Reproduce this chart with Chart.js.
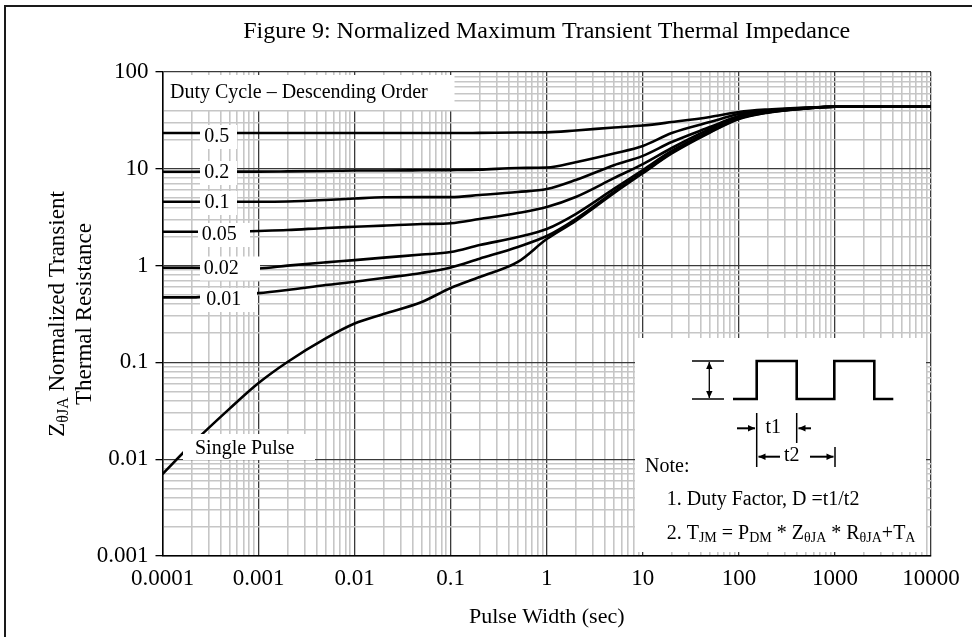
<!DOCTYPE html>
<html><head><meta charset="utf-8">
<script src="https://cdn.jsdelivr.net/npm/chart.js@4.4.1/dist/chart.umd.min.js"></script>
<style>html,body{margin:0;padding:0;background:#fff}#wrap{width:972px;height:637px;position:relative}</style>
</head><body><div id="wrap"><canvas id="c" width="972" height="637"></canvas></div>
<script>
// ---- data ----
const pulseWidth = [0.0001,0.0002,0.0005,0.001,0.002,0.005,0.01,0.02,0.05,0.1,0.2,0.5,1,2,5,10,20,50,100,200,500,1000,10000];
const duty05  = [23.4,23.4,23.4,23.4,23.4,23.4,23.4,23.4,23.4,23.4,23.5,23.7,23.8,24.9,26.7,28.0,30.4,34.3,38.6,41.0,43.0,43.8,43.8];
const duty02  = [9.33,9.33,9.35,9.35,9.4,9.5,9.6,9.6,9.65,9.7,9.8,10.2,10.3,11.7,14.4,17.2,23.4,30.4,36.8,40.0,42.5,43.8,43.8];
const duty01  = [4.57,4.57,4.57,4.57,4.6,4.76,4.93,5.08,5.1,5.1,5.36,5.76,6.18,7.66,10.9,13.6,18.9,27.0,35.1,39.6,42.5,43.8,43.8];
const duty005 = [2.24,2.24,2.24,2.28,2.33,2.45,2.52,2.59,2.69,2.74,3.03,3.49,4.03,5.11,8.0,11.2,16.4,25.8,34.3,39.1,42.5,43.8,43.8];
const duty002 = [0.95,0.95,0.94,0.935,1.0,1.08,1.14,1.21,1.30,1.38,1.63,1.97,2.39,3.41,6.2,9.7,15.3,24.5,33.5,38.6,42.0,43.8,43.8];
const duty001 = [0.47,0.47,0.5,0.52,0.56,0.63,0.68,0.745,0.84,0.955,1.18,1.56,2.02,3.03,5.8,9.16,14.7,24.0,33.1,38.3,42.0,43.8,43.8];
const singlePulse = [0.00703,0.0142,0.0333,0.0612,0.101,0.177,0.252,0.316,0.421,0.587,0.762,1.09,1.88,2.9,5.6,9.0,14.4,23.7,32.7,38.0,42.0,43.8,43.8];
const seriesLabels = ['0.5','0.2','0.1','0.05','0.02','0.01','Single Pulse'];

const xMajor = [0.0001,0.001,0.01,0.1,1,10,100,1000,10000];
const xTickLabels = ['0.0001','0.001','0.01','0.1','1','10','100','1000','10000'];
const yMajor = [0.001,0.01,0.1,1,10,100];
const yTickLabels = ['0.001','0.01','0.1','1','10','100'];

const titleText = 'Figure 9: Normalized Maximum Transient Thermal Impedance';
const xTitle = 'Pulse Width (sec)';
const legendNote = 'Duty Cycle \u2013 Descending Order';

// ---- helpers ----
const SERIF = '"Liberation Serif", "Times New Roman", serif';
function isMajor(v){ const l=Math.log10(v); return Math.abs(l-Math.round(l))<1e-6; }
function majorIndex(v, majors){ for(let i=0;i<majors.length;i++){ if(Math.abs(Math.log10(v)-Math.log10(majors[i]))<1e-6) return i; } return -1; }
function logTicks(majors){ const t=[]; for(let i=0;i<majors.length;i++){ t.push({value:majors[i]}); if(i<majors.length-1){ for(let m=2;m<=9;m++) t.push({value:majors[i]*m}); } } return t; }

const allSeries = [duty05,duty02,duty01,duty005,duty002,duty001,singlePulse];
const datasets = allSeries.map((arr,k)=>({
  label: seriesLabels[k],
  data: pulseWidth.map((x,i)=>({x:x,y:arr[i]})),
  borderColor:'#000', borderWidth:2.6, pointRadius:0, fill:false,
  cubicInterpolationMode:'monotone'
}));

function rich(ctx, segs, x, y, size, subSize, align){
  let w=0;
  for(const [t,s] of segs){ ctx.font=(s?subSize:size)+'px '+SERIF; w+=ctx.measureText(t).width; }
  let cx = align==='center' ? x-w/2 : x;
  for(const [t,s] of segs){ ctx.font=(s?subSize:size)+'px '+SERIF; ctx.fillText(t,cx,y+(s?size*0.17:0)); cx+=ctx.measureText(t).width; }
}
function arrow(ctx,x1,y1,x2,y2,head){
  ctx.beginPath(); ctx.moveTo(x1,y1); ctx.lineTo(x2,y2); ctx.stroke();
  const a=Math.atan2(y2-y1,x2-x1), h=head||7, w=3.2;
  ctx.beginPath();
  ctx.moveTo(x2,y2);
  ctx.lineTo(x2-h*Math.cos(a)+w*Math.sin(a), y2-h*Math.sin(a)-w*Math.cos(a));
  ctx.lineTo(x2-h*Math.cos(a)-w*Math.sin(a), y2-h*Math.sin(a)+w*Math.cos(a));
  ctx.closePath(); ctx.fill();
}

const decor = {
  id:'decor',
  beforeDraw(chart){
    const ctx=chart.ctx; ctx.save();
    ctx.fillStyle='#fff'; ctx.fillRect(0,0,chart.width,chart.height);
    ctx.strokeStyle='#1a1a1a'; ctx.lineWidth=2;
    ctx.beginPath(); ctx.moveTo(5,chart.height); ctx.lineTo(5,6); ctx.lineTo(chart.width,6); ctx.stroke();
    ctx.restore();
  },
  afterDatasetsDraw(chart){
    const ctx=chart.ctx, a=chart.chartArea;
    ctx.save();
    ctx.fillStyle='#000'; ctx.textBaseline='alphabetic';
    // title
    ctx.font='24px '+SERIF; ctx.textAlign='center'; ctx.textBaseline='middle';
    ctx.fillText(titleText,(a.left+a.right)/2,32);
    // legend header box
    ctx.fillStyle='#fff'; ctx.fillRect(a.left+1.5,75,453-a.left,35);
    ctx.fillStyle='#000'; ctx.font='20px '+SERIF; ctx.textAlign='left';
    ctx.fillText(legendNote,170,93);
    // series labels: [text, boxL, boxR, textCenterX, textCenterY]
    const lab=[[seriesLabels[0],200,237,216.7,137],[seriesLabels[1],200,237,216.7,173],[seriesLabels[2],200,237,217,203],
               [seriesLabels[3],198,250,219.3,235],[seriesLabels[4],200,260,221.3,268.5],[seriesLabels[5],200,257,223.7,300]];
    for(const [t,l,r,cx,cy] of lab){
      ctx.fillStyle='#fff'; ctx.fillRect(l,cy-12,r-l,24);
      ctx.fillStyle='#000'; ctx.textAlign='center'; ctx.textBaseline='middle'; ctx.font='20px '+SERIF;
      ctx.fillText(t,cx,cy);
    }
    ctx.fillStyle='#fff'; ctx.fillRect(183,434,132,26);
    ctx.fillStyle='#000'; ctx.textAlign='left'; ctx.fillText(seriesLabels[6],195,449);
    // inset box
    ctx.fillStyle='#fff'; ctx.fillRect(635,338,291,214);
    ctx.fillStyle='#000'; ctx.strokeStyle='#000';
    // amplitude bracket
    ctx.lineWidth=1.5;
    ctx.beginPath(); ctx.moveTo(692,361); ctx.lineTo(724,361); ctx.moveTo(692,399); ctx.lineTo(724,399); ctx.stroke();
    ctx.lineWidth=1.3;
    arrow(ctx,709.3,380,709.3,362,7); arrow(ctx,709.3,380,709.3,398,7);
    // waveform
    ctx.lineWidth=2.6; ctx.lineJoin='miter';
    ctx.beginPath(); ctx.moveTo(733,399); ctx.lineTo(756.7,399); ctx.lineTo(756.7,361); ctx.lineTo(796.7,361); ctx.lineTo(796.7,399);
    ctx.lineTo(834.3,399); ctx.lineTo(834.3,361); ctx.lineTo(874.3,361); ctx.lineTo(874.3,399); ctx.lineTo(893.3,399); ctx.stroke();
    // t1/t2 markers
    ctx.lineWidth=1.5;
    ctx.beginPath(); ctx.moveTo(756.7,413); ctx.lineTo(756.7,467); ctx.moveTo(796.7,413); ctx.lineTo(796.7,443); ctx.moveTo(835,447); ctx.lineTo(835,467); ctx.stroke();
    ctx.lineWidth=2;
    arrow(ctx,737,428.3,755,428.3,7); arrow(ctx,811,428.3,798.5,428.3,7);
    arrow(ctx,780,456.7,758.5,456.7,7); arrow(ctx,810,456.7,833.5,456.7,7);
    ctx.font='20px '+SERIF; ctx.textAlign='center'; ctx.textBaseline='middle';
    ctx.fillText('t1',773.3,428); ctx.fillText('t2',791.7,456);
    ctx.textAlign='left';
    ctx.fillText('Note:',645,466.7);
    ctx.fillText('1. Duty Factor, D =t1/t2',666.7,500);
    ctx.textBaseline='alphabetic';
    rich(ctx,[['2. T',0],['JM',1],[' = P',0],['DM',1],[' * Z',0],['\u03B8JA',1],[' * R',0],['\u03B8JA',1],['+T',0],['A',1]],666.7,538.5,20,14,'left');
    // y-axis title
    ctx.save(); ctx.translate(56,314); ctx.rotate(-Math.PI/2);
    rich(ctx,[['Z',0],['\u03B8JA',1],[' Normalized Transient',0]],0,7.8,23,16,'center');
    ctx.restore();
    ctx.save(); ctx.translate(83.5,314); ctx.rotate(-Math.PI/2);
    rich(ctx,[['Thermal Resistance',0]],0,7.8,23,16,'center');
    ctx.restore();
    ctx.restore();
  }
};

const gridColor = c => (c.tick && isMajor(c.tick.value)) ? '#3a3a3a' : '#c6c6c6';
const gridWidth = c => (c.tick && isMajor(c.tick.value)) ? 1.3 : 1.6;

new Chart(document.getElementById('c'), {
  type:'line',
  data:{ datasets },
  plugins:[decor],
  options:{
    responsive:false, animation:false, devicePixelRatio:1,
    layout:{ padding:{ left:0, right:41, top:72, bottom:0 } },
    plugins:{ legend:{display:false}, tooltip:{enabled:false}, title:{display:false} },
    scales:{
      x:{
        type:'logarithmic', min:0.0001, max:10000, offset:false,
        afterBuildTicks: s => { s.ticks = logTicks(xMajor); },
        afterFit: s => { s.height = 81; },
        grid:{ color:gridColor, lineWidth:gridWidth, drawTicks:false },
        border:{ display:true, color:'#000', width:1.5 },
        ticks:{ autoSkip:false, maxRotation:0, minRotation:0, padding:9, color:'#000',
          font:{ family:SERIF, size:23 },
          callback:(v)=>{ const i=majorIndex(v,xMajor); return i>=0 ? xTickLabels[i] : ''; } },
        title:{ display:true, text:xTitle, color:'#000', font:{ family:SERIF, size:22 }, padding:{top:0,bottom:7} }
      },
      y:{
        type:'logarithmic', min:0.001, max:100, offset:false,
        afterBuildTicks: s => { s.ticks = logTicks(yMajor); },
        afterFit: s => { s.width = 162.5; },
        grid:{ color:gridColor, lineWidth:gridWidth, drawTicks:true, tickLength:7,
          tickColor: c => (c.tick && isMajor(c.tick.value)) ? '#000' : 'rgba(0,0,0,0)', tickWidth:1.3 },
        border:{ display:true, color:'#000', width:1.5 },
        ticks:{ autoSkip:false, padding:7, color:'#000', font:{ family:SERIF, size:23 },
          callback:(v)=>{ const i=majorIndex(v,yMajor); return i>=0 ? yTickLabels[i] : ''; } },
        title:{ display:false }
      }
    }
  }
});
</script>
</body></html>
